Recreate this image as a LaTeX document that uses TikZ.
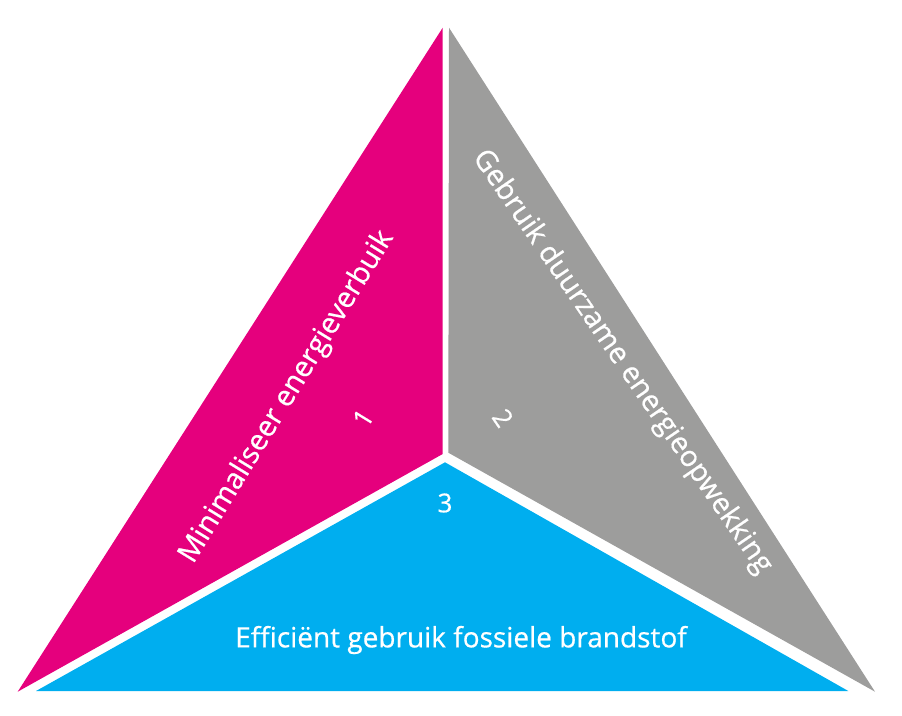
\documentclass[tikz,border=0pt]{standalone}
\usepackage{fontspec}
\setmainfont{Open Sans}[FakeBold=0.6, AutoFakeBold=0.6]
\usepackage{tikz}
\usetikzlibrary{calc, positioning}

\definecolor{trisroze}{HTML}{E5007D}
\definecolor{trisgrijs}{HTML}{9D9D9C}
\definecolor{trisblauw}{HTML}{00AEEF}

\begin{document}
\begin{tikzpicture}[x=1pt, y=-1pt,
    vlak/.style={draw=none},
    label/.style={text=white, inner sep=0pt, font=\fontsize{28}{32}\selectfont\bfseries},
    cijfer/.style={text=white, inner sep=0pt, font=\fontsize{26}{30}\selectfont\bfseries}]

    \useasboundingbox (0,0) rectangle (902,715);

    % 1. hoekpunten van de drie vlakken
    \coordinate (rozeTop) at (442.7, 27.7);
    \coordinate (rozeLinks) at (17.7, 691.7);
    \coordinate (rozeMidden) at (442.7, 454);
    \coordinate (grijsTop) at (449, 27.7);
    \coordinate (grijsRechts) at (875, 691.7);
    \coordinate (grijsMidden) at (448.3, 452.7);
    \coordinate (blauwLinks) at (36, 691);
    \coordinate (blauwRechts) at (848.3, 691);
    \coordinate (blauwMidden) at (445, 462.3);

    % 2. de vlakken
    \fill[vlak, trisroze] (rozeTop) -- (rozeLinks) -- (rozeMidden) -- cycle;
    \fill[vlak, trisgrijs] (grijsTop) -- (grijsRechts) -- (grijsMidden) -- cycle;
    \fill[vlak, trisblauw] (blauwLinks) -- (blauwRechts) -- (blauwMidden) -- cycle;

    % 3. teksten langs de zijden
    \node[label, font=\fontsize{29}{33}\selectfont\bfseries, rotate=58.5] (minimaliseer) at (287, 397) {Minimaliseer energieverbuik};
    \node[label, font=\fontsize{29}{33}\selectfont\bfseries, rotate=-55.5] (duurzaam) at (622, 362) {Gebruik duurzame energieopwekking};
    \node[label] (fossiel) at (461, 640) {Efficiënt gebruik fossiele brandstof};

    % 4. nummers
    \node[cijfer, rotate=58.5] (een) at (363, 418) {1};
    \node[cijfer, rotate=-55.5] (twee) at (503, 418) {2};
    \node[cijfer] (drie) at (445, 503) {3};

\end{tikzpicture}
\end{document}
